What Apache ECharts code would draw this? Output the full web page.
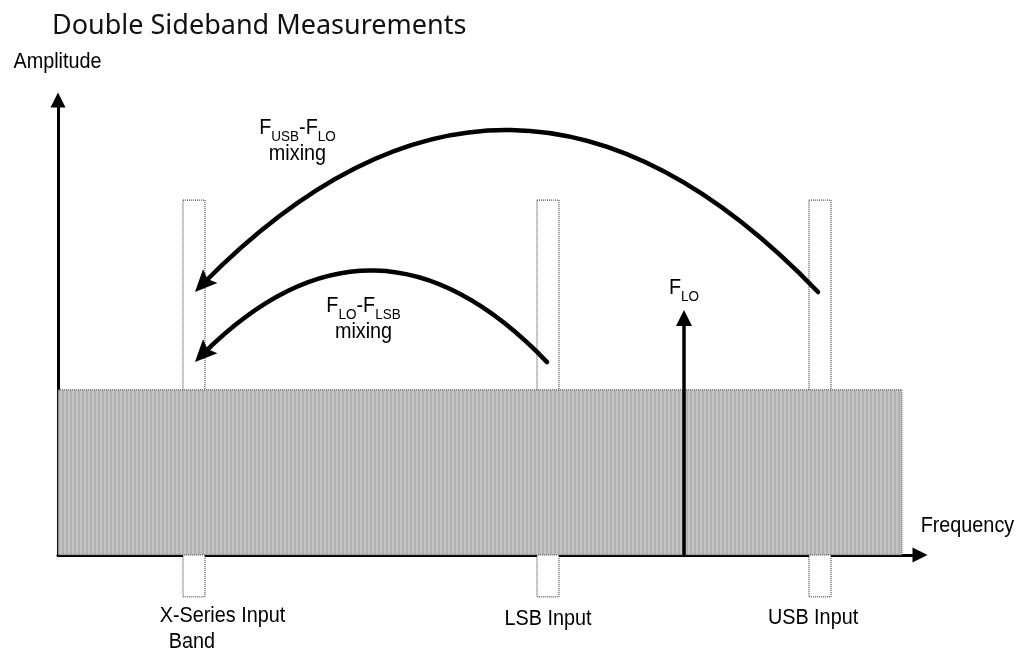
<!DOCTYPE html>
<html>
<head>
<meta charset="utf-8">
<script src="https://cdn.jsdelivr.net/npm/echarts@6/dist/echarts.min.js"></script>
<style>
  html, body { margin: 0; padding: 0; background: #fff; }
  #canvas { width: 1018px; height: 653px; }
</style>
</head>
<body>
<div id="canvas"></div>
<script>
// 坐标单位: 横轴 0~100 (频率), 纵轴 0~100 (幅度)
var band = [[0, 97.9, 0, 36.3]];                       // 灰色输入带 [x0, x1, y0, y1]
var boxes = [[14.5, 17.05, -9.2, 78], [55.57, 58.12, -9.2, 78], [87.12, 89.68, -9.2, 78]];
var loLine = [[72.62, 0], [72.62, 52.1]];              // F_LO 箭头
var arcs = [
    [88.17, 57.8, 15.89, 57.8],                        // F_USB-F_LO mixing
    [56.73, 42.4, 15.89, 42.4]                         // F_LO-F_LSB mixing
];
var bend = -0.52;
var texts = [
    { pos: [27.78, 90.6], txt: '{a|F}{b|USB}{a|-F}{b|LO}\n{a|mixing}' },
    { pos: [35.44, 51.5], txt: '{a|F}{b|LO}{a|-F}{b|LSB}\n{a|mixing}' },
    { pos: [72.62, 58.3], txt: '{a|F}{b|LO}' },
    { pos: [19.08, -16.7], txt: '{a|X-Series Input}\n{c|Band}' },
    { pos: [56.84, -14.5], txt: '{a|LSB Input}' },
    { pos: [87.59, -14.3], txt: '{a|USB Input}' },
    { pos: [-0.06, 107.9], txt: '{a|Amplitude}' },
    { pos: [105.5, 5.9], txt: '{a|Frequency}' }
];

var myChart = echarts.init(document.getElementById('canvas'));
var font = "'Liberation Sans', Arial, sans-serif";

// 竖条纹理
var pat = document.createElement('canvas');
pat.width = 4;
pat.height = 1;
var ctx = pat.getContext('2d');
ctx.fillStyle = '#c4c4c4';
ctx.fillRect(0, 0, 2, 1);
ctx.fillStyle = '#b1b1b1';
ctx.fillRect(2, 0, 2, 1);

function rectItem(fill, stroke) {
    return function (params, api) {
        var p0 = api.coord([api.value(0), api.value(3)]);
        var p1 = api.coord([api.value(1), api.value(2)]);
        return {
            type: 'rect',
            shape: { x: p0[0], y: p0[1], width: p1[0] - p0[0], height: p1[1] - p0[1] },
            style: { fill: fill, stroke: stroke, lineWidth: 1, lineDash: [1, 1] }
        };
    };
}

// 带箭头的二次曲线
function arcItem(params, api) {
    var a = api.coord([api.value(0), api.value(1)]);
    var b = api.coord([api.value(2), api.value(3)]);
    var c = [(a[0] + b[0]) / 2 - (a[1] - b[1]) * bend, (a[1] + b[1]) / 2 - (b[0] - a[0]) * bend];
    var dx = b[0] - c[0], dy = b[1] - c[1];
    var len = Math.sqrt(dx * dx + dy * dy);
    dx /= len; dy /= len;
    var t = 1 - 12 / (2 * len);
    var c2 = [a[0] + t * (c[0] - a[0]), a[1] + t * (c[1] - a[1])];
    var e2 = [
        (1 - t) * (1 - t) * a[0] + 2 * t * (1 - t) * c[0] + t * t * b[0],
        (1 - t) * (1 - t) * a[1] + 2 * t * (1 - t) * c[1] + t * t * b[1]
    ];
    var L = 22, W = 10;
    var nx = -dy, ny = dx;
    return {
        type: 'group',
        children: [{
            type: 'bezierCurve',
            shape: { x1: a[0], y1: a[1], x2: e2[0], y2: e2[1], cpx1: c2[0], cpy1: c2[1] },
            style: { stroke: '#000', lineWidth: 4.5, fill: null, lineCap: 'round' }
        }, {
            type: 'polygon',
            shape: {
                points: [
                    [b[0], b[1]],
                    [b[0] - dx * L + nx * W, b[1] - dy * L + ny * W],
                    [b[0] - dx * (L - 4), b[1] - dy * (L - 4)],
                    [b[0] - dx * L - nx * W, b[1] - dy * L - ny * W]
                ]
            },
            style: { fill: '#000' }
        }]
    };
}

function textItem(params, api) {
    var p = api.coord([api.value(0), api.value(1)]);
    return {
        type: 'text',
        x: p[0],
        y: p[1],
        scaleX: 0.9,
        style: {
            text: texts[params.dataIndex].txt,
            align: 'center',
            verticalAlign: 'middle',
            fill: '#000',
            fontFamily: font,
            fontSize: 22,
            rich: {
                a: { fontFamily: font, fontSize: 22, lineHeight: 26, fill: '#000', verticalAlign: 'top' },
                b: { fontFamily: font, fontSize: 15, lineHeight: 14, fill: '#000', verticalAlign: 'top', padding: [13, 0, 0, 0] },
                c: { fontFamily: font, fontSize: 22, lineHeight: 26, fill: '#000', verticalAlign: 'top', padding: [0, 68, 0, 0] }
            }
        }
    };
}

option = {
    animation: false,
    title: {
        text: 'Double Sideband Measurements',
        left: 47,
        top: 8,
        textStyle: { fontFamily: 'Noto Sans', fontSize: 27, fontWeight: 'normal', color: '#111' }
    },
    grid: { left: 58, right: 98, top: 100, bottom: 98 },
    xAxis: {
        type: 'value', min: 0, max: 100,
        splitLine: { show: false }, axisTick: { show: false }, axisLabel: { show: false },
        axisLine: { lineStyle: { color: '#000', width: 3 }, symbol: ['none', 'triangle'], symbolSize: [15, 15] }
    },
    yAxis: {
        type: 'value', min: 0, max: 100,
        splitLine: { show: false }, axisTick: { show: false }, axisLabel: { show: false },
        axisLine: { lineStyle: { color: '#000', width: 3 }, symbol: ['none', 'triangle'], symbolSize: [15, 15] }
    },
    series: [{
        type: 'custom',
        renderItem: rectItem('#fff', '#222'),
        data: boxes,
        clip: false,
        z: 1,
        silent: true
    }, {
        type: 'custom',
        renderItem: rectItem({ image: pat, repeat: 'repeat' }, '#444'),
        data: band,
        clip: false,
        z: 2,
        silent: true
    }, {
        type: 'custom',
        renderItem: arcItem,
        data: arcs,
        clip: false,
        z: 5,
        silent: true
    }, {
        type: 'lines',
        coordinateSystem: 'cartesian2d',
        clip: false,
        z: 5,
        symbol: ['none', 'triangle'],
        symbolSize: [16, 16],
        lineStyle: { color: '#000', width: 3.5, opacity: 1 },
        data: [{ coords: loLine }]
    }, {
        type: 'custom',
        renderItem: textItem,
        data: texts.map(function (t) { return t.pos; }),
        clip: false,
        z: 6,
        silent: true
    }]
};

myChart.setOption(option);
window.onresize = myChart.resize;
</script>
</body>
</html>
